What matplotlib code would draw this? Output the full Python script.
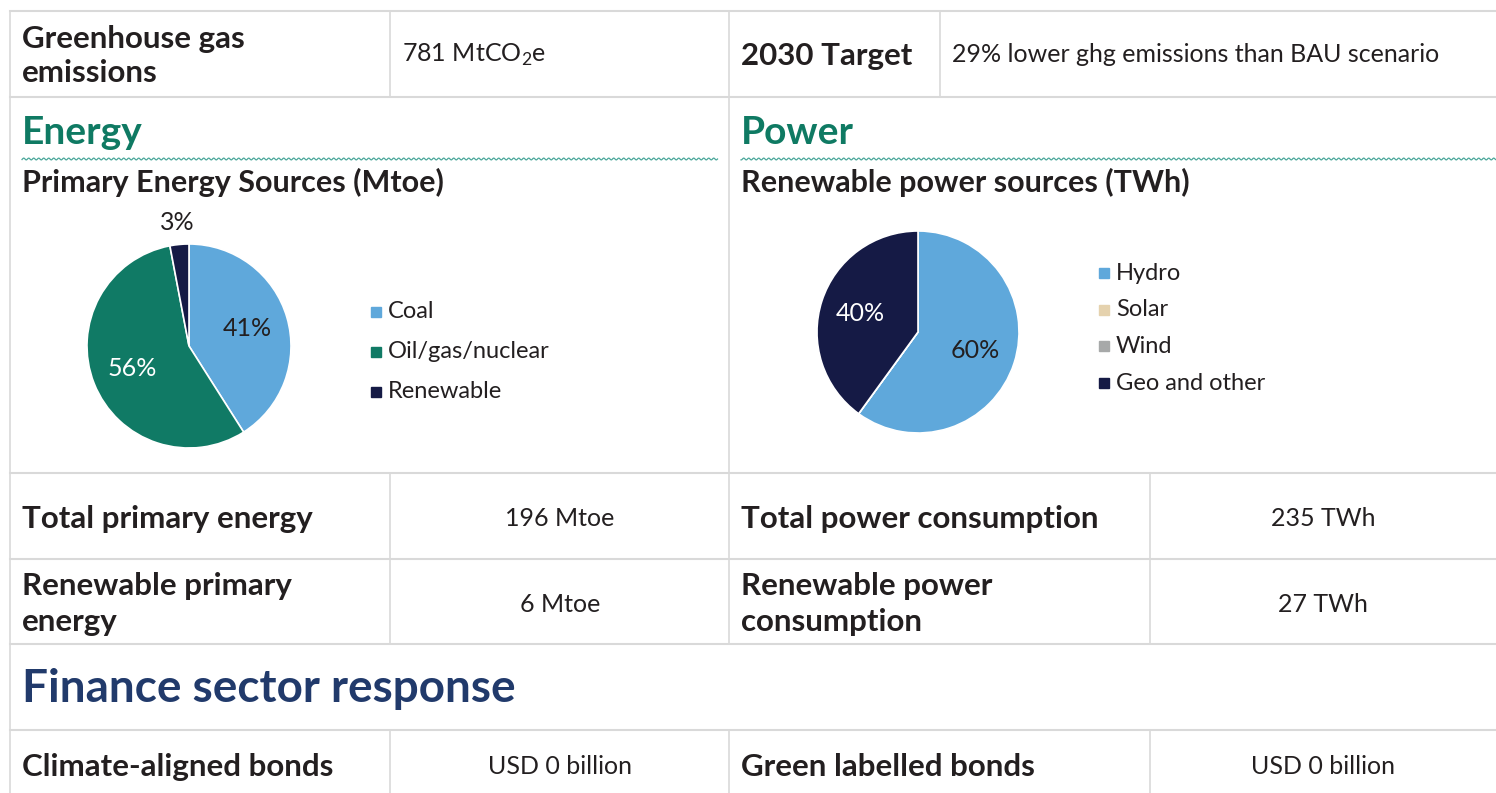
import numpy as np
import matplotlib
matplotlib.use("Agg")
import matplotlib.pyplot as plt

plt.rcParams['font.family'] = ['Lato', 'DejaVu Sans']
plt.rcParams['mathtext.fontset'] = 'custom'
plt.rcParams['mathtext.rm'] = 'Lato'

# data
energy_labels = ["Coal", "Oil/gas/nuclear", "Renewable"]
energy_shares = [41, 56, 3]
energy_colors = ["#5fa8db", "#107a65", "#151a45"]

power_labels = ["Hydro", "Solar", "Wind", "Geo and other"]
power_shares = [60, 0, 0, 40]
power_colors = ["#5fa8db", "#e5d2ae", "#a7a9a9", "#151a45"]

ghg_value = "781 MtCO$_2$e"
target_text = "29% lower ghg emissions than BAU scenario"
energy_rows = [("Total primary energy", "196 Mtoe"),
               ("Renewable primary\nenergy", "6 Mtoe")]
power_rows = [("Total power consumption", "235 TWh"),
              ("Renewable power\nconsumption", "27 TWh")]
finance_rows = [("Climate-aligned bonds", "USD 0 billion"),
                ("Green labelled bonds", "USD 0 billion")]

W, H = 1496, 793
DARK = "#231f20"
GRID = "#d9d9d9"
GREEN = "#0f7a63"
NAVY = "#213a6b"
BIG = 22.5   # bold row labels
REG = 18     # regular values

fig = plt.figure(figsize=(W / 100, H / 100), dpi=100)
ax = fig.add_axes([0, 0, 1, 1])
ax.set_xlim(0, W)
ax.set_ylim(H, 0)
ax.axis("off")


def hline(y, x0=10, x1=W):
    ax.plot([x0, x1], [y, y], color=GRID, lw=1.5)


def vline(x, y0, y1):
    ax.plot([x, x], [y0, y1], color=GRID, lw=1.2)


# table grid
for y in [11, 97, 473, 559, 644, 730]:
    hline(y)
vline(10, 11, H)
for x in [390, 729, 940]:
    vline(x, 11, 97)
vline(729, 97, 473)
for x in [390, 729, 1150]:
    vline(x, 473, 644)
    vline(x, 730, H)

# top row
ax.text(22, 56, "Greenhouse gas\nemissions", fontsize=BIG, fontweight="bold",
        color=DARK, va="center", linespacing=1.3)
ax.text(402, 55, ghg_value, fontsize=REG, color=DARK, va="center")
ax.text(741, 56, "2030 Target", fontsize=BIG, fontweight="bold", color=DARK, va="center")
ax.text(952, 55, target_text, fontsize=REG, color=DARK, va="center")

# section headers
for x0, x1, title, sub in [(22, 718, "Energy", "Primary Energy Sources (Mtoe)"),
                           (741, W, "Power", "Renewable power sources (TWh)")]:
    ax.text(x0, 132, title, fontsize=28, fontweight="bold", color=GREEN, va="center")
    xs = np.arange(x0, x1, 0.5)
    ax.plot(xs, 159 + 0.9 * np.sin(xs * 2 * np.pi / 5), color="#4aa79a", lw=0.9)
    ax.text(x0, 182, sub, fontsize=22, fontweight="bold", color=DARK, va="center")


def pie_axes(cx, cy, r):
    return fig.add_axes([(cx - r) / W, (H - cy - r) / H, 2 * r / W, 2 * r / H])


def pct(v):
    return f"{v:.0f}%" if v > 0 else ""


# energy pie
pa = pie_axes(189, 346, 102)
wedges, _, autos = pa.pie(energy_shares, colors=energy_colors, startangle=90,
                          counterclock=False, autopct=pct, pctdistance=0.6,
                          wedgeprops=dict(edgecolor="white", linewidth=1.2),
                          textprops=dict(fontsize=REG))
pa.set_xlim(-1, 1)
pa.set_ylim(-1, 1)
for w, t, c in zip(wedges, autos, ["dark", "light", "out"]):
    if c == "light":
        t.set_color("white")
    else:
        t.set_color(DARK)
    if c == "out":
        ang = np.deg2rad((w.theta1 + w.theta2) / 2)
        t.set_position((1.22 * np.cos(ang), 1.22 * np.sin(ang)))

for i, (lab, col) in enumerate(zip(energy_labels, energy_colors)):
    y = 312 + i * 40
    ax.add_patch(plt.Rectangle((371, y - 5), 10, 10, color=col))
    ax.text(388, y, lab, fontsize=17, color=DARK, va="center")

# power pie
pb = pie_axes(918, 332, 101)
wedges, _, autos = pb.pie(power_shares, colors=power_colors, startangle=90,
                          counterclock=False, autopct=pct, pctdistance=0.6,
                          wedgeprops=dict(edgecolor="white", linewidth=1.2),
                          textprops=dict(fontsize=REG))
pb.set_xlim(-1, 1)
pb.set_ylim(-1, 1)
for t, col in zip(autos, power_colors):
    t.set_color("white" if col == "#151a45" else DARK)

for i, (lab, col) in enumerate(zip(power_labels, power_colors)):
    y = 273 + i * 36.7
    ax.add_patch(plt.Rectangle((1099, y - 5), 10, 10, color=col))
    ax.text(1116, y, lab, fontsize=17, color=DARK, va="center")

# energy / power stats
for i, ((el, ev), (pl, pv)) in enumerate(zip(energy_rows, power_rows)):
    yc = [519, 604][i]
    ax.text(22, yc, el, fontsize=BIG, fontweight="bold", color=DARK, va="center",
            linespacing=1.35)
    ax.text(560, yc, ev, fontsize=REG, color=DARK, va="center", ha="center")
    ax.text(741, yc, pl, fontsize=BIG, fontweight="bold", color=DARK, va="center",
            linespacing=1.35)
    ax.text(1323, yc, pv, fontsize=REG, color=DARK, va="center", ha="center")

# finance
ax.text(22, 689, "Finance sector response", fontsize=33, fontweight="bold",
        color=NAVY, va="center")
for (lab, val), xl, xv in zip(finance_rows, [22, 741], [560, 1323]):
    ax.text(xl, 767, lab, fontsize=BIG, fontweight="bold", color=DARK, va="center")
    ax.text(xv, 767, val, fontsize=REG, color=DARK, va="center", ha="center")

fig.savefig("out.png", dpi=100, facecolor="white")
